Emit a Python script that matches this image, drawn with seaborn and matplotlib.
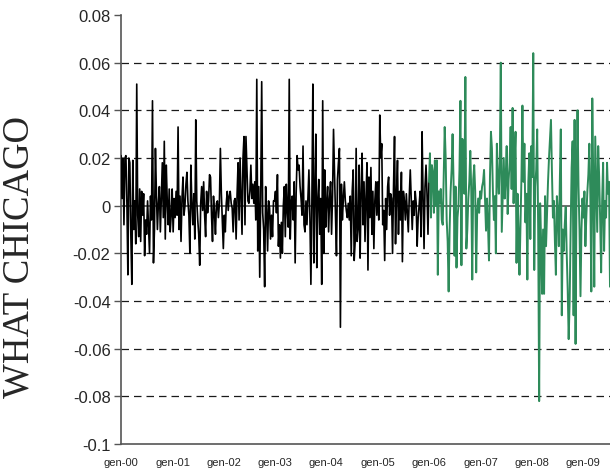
import numpy as np
import pandas as pd
import matplotlib
matplotlib.use("Agg")
import matplotlib.pyplot as plt
import matplotlib.dates as mdates
from matplotlib.ticker import FuncFormatter
import seaborn as sns

# Weekly returns, one list per calendar year
r2000 = [0.021, 0.003, 0.020, -0.008, 0.020, 0.021, 0.001, -0.029, 0.020, 0.018,
         -0.012, -0.033, 0.019, -0.010, 0.002, -0.016, 0.051, -0.004, -0.013, 0.007,
         -0.015, 0.006, -0.004, 0.005, -0.021, -0.006, -0.012, 0.002, -0.009, -0.020,
         0.004, -0.006, 0.044, -0.024, -0.010, 0.024, 0.005, -0.010, 0.001, 0.008,
         -0.011, 0.003, 0.018, -0.005, 0.027, -0.014, 0.017, 0.002, -0.008, 0.007,
         -0.011, -0.004]
r2001 = [0.007, -0.011, 0.003, -0.005, 0.006, -0.004, 0.033, -0.010, 0.004, -0.015,
         0.003, 0.012, -0.004, 0.000, 0.009, 0.014, 0.002, -0.004, -0.020, 0.017,
         0.001, -0.008, 0.005, -0.014, 0.036, 0.002, -0.006, -0.012, -0.025, 0.001,
         0.008, -0.002, 0.010, -0.004, -0.013, 0.006, -0.003, 0.002, 0.013, 0.012,
         -0.004, -0.015, 0.004, -0.003, -0.012, 0.001, 0.002, -0.005, 0.001, 0.024,
         0.005, -0.006]
r2002 = [-0.018, -0.004, -0.011, 0.001, 0.006, -0.002, 0.004, 0.006, 0.001, -0.001,
         -0.011, 0.002, 0.003, -0.014, 0.005, 0.018, -0.006, 0.020, 0.004, -0.012,
         0.020, 0.029, -0.008, 0.029, 0.015, 0.002, 0.001, 0.006, 0.017, 0.003,
         0.009, 0.001, 0.010, -0.006, 0.053, -0.019, 0.008, -0.030, 0.004, 0.052,
         -0.003, -0.010, -0.034, 0.008, -0.002, -0.019, 0.002, -0.001, -0.014, -0.004,
         -0.013, 0.002]
r2003 = [0.002, 0.006, -0.003, 0.013, -0.017, -0.008, -0.022, -0.007, -0.020, 0.000,
         0.008, -0.013, 0.009, -0.002, -0.009, 0.053, -0.014, 0.001, 0.004, -0.006,
         0.010, -0.024, 0.005, 0.021, 0.015, 0.017, 0.008, 0.003, -0.004, 0.025,
         -0.008, -0.011, 0.002, -0.008, 0.004, 0.015, -0.005, -0.033, 0.001, 0.051,
         -0.024, 0.005, 0.030, -0.026, 0.002, 0.011, -0.012, 0.003, -0.033, 0.044,
         -0.020, 0.015]
r2004 = [-0.009, 0.002, 0.008, -0.011, 0.003, 0.010, -0.012, 0.004, 0.032, 0.013,
         -0.004, -0.021, 0.011, 0.018, 0.024, -0.051, 0.009, -0.006, 0.003, 0.010,
         0.002, -0.002, -0.005, 0.001, -0.006, 0.004, -0.021, 0.006, 0.015, -0.023,
         -0.015, 0.024, -0.015, -0.010, 0.017, -0.022, 0.005, 0.022, -0.008, 0.010,
         -0.015, 0.003, 0.018, -0.027, 0.012, -0.005, 0.016, -0.012, 0.006, -0.018,
         0.002, 0.010]
r2005 = [-0.004, 0.010, -0.006, 0.038, 0.020, 0.026, -0.008, -0.002, -0.023, 0.003,
         -0.010, 0.008, 0.012, -0.004, 0.005, 0.003, -0.020, 0.008, 0.029, -0.016,
         0.004, 0.019, -0.012, 0.006, -0.006, 0.014, -0.0235, 0.006, 0.002, -0.006,
         0.005, -0.003, -0.011, 0.004, 0.015, 0.003, -0.010, 0.002, -0.004, 0.006,
         0.001, -0.017, -0.005, 0.000, 0.006, -0.013, 0.031, 0.004, -0.018, 0.008,
         0.017, 0.005]
r2006 = [-0.012, 0.010, 0.022, -0.005, 0.017, 0.014, -0.003, 0.019, 0.000, 0.019,
         -0.029, 0.006, 0.001, 0.007, -0.006, -0.008, 0.012, 0.033, 0.020, -0.006,
         -0.015, -0.036, -0.010, 0.006, 0.015, 0.030, 0.010, -0.021, 0.008, -0.026,
         -0.005, 0.000, 0.015, 0.044, -0.025, 0.028, 0.021, 0.005, 0.054, -0.018,
         -0.010, 0.003, 0.010, 0.023, 0.006, -0.031, 0.011, 0.017, 0.006, -0.028,
         -0.003, 0.003]
r2007 = [-0.003, 0.006, 0.003, 0.008, 0.010, 0.015, 0.002, -0.0105, 0.003, -0.008,
         -0.023, 0.012, 0.031, 0.024, 0.006, -0.006, 0.004, -0.020, 0.026, 0.012,
         0.005, 0.018, 0.060, -0.011, 0.004, 0.020, 0.003, 0.012, 0.025, -0.0035,
         0.011, 0.018, 0.033, 0.007, 0.041, 0.001, 0.018, 0.031, -0.024, 0.005,
         -0.010, -0.029, -0.009, 0.012, 0.042, 0.010, 0.026, -0.007, 0.005, -0.031,
         0.010, 0.022]
r2008 = [-0.014, 0.025, 0.012, 0.064, -0.027, 0.008, 0.015, 0.032, -0.010, -0.082,
         0.001, -0.015, -0.037, -0.010, -0.037, 0.004, -0.017, -0.004, 0.010, 0.020,
         0.028, 0.036, 0.014, -0.005, 0.002, -0.015, -0.029, 0.004, -0.003, -0.017,
         0.010, 0.032, -0.046, -0.010, -0.019, -0.008, -0.0005, -0.020, -0.035, -0.056,
         -0.040, -0.010, 0.016, 0.027, -0.046, 0.036, -0.058, 0.010, 0.040, 0.008,
         -0.010, -0.038]
r2009 = [-0.010, 0.003, -0.005, 0.006, -0.017, -0.004, 0.006, 0.013, 0.026, 0.005,
         -0.036, 0.045, 0.010, -0.034, 0.029, 0.008, -0.011, 0.025, 0.012, -0.006,
         -0.028, 0.002, 0.018, -0.019, 0.002, -0.005, 0.018, 0.005, 0.010, -0.034]

y_ticks = [-0.1, -0.08, -0.06, -0.04, -0.02, 0.0, 0.02, 0.04, 0.06, 0.08]
y_label = "WHAT CHICAGO"
month_prefix = "gen"

returns = r2000 + r2001 + r2002 + r2003 + r2004 + r2005 + r2006 + r2007 + r2008 + r2009
dates = pd.date_range("2000-01-01", periods=len(returns), freq="7D")
df = pd.DataFrame({"date": dates, "ret": returns})

split = pd.Timestamp("2006-01-01")
early = df[df["date"] < split]
late = df[df["date"] >= split - pd.Timedelta(days=7)]

sns.set_style("white")
plt.rcParams["font.family"] = ["Liberation Sans", "DejaVu Sans"]

fig = plt.figure(figsize=(6.1, 4.77), dpi=100)
ax = fig.add_axes([121 / 610, 1 - 445 / 477, 489 / 610, 429 / 477])

# dashed horizontal grid, solid zero line
ax.set_yticks(y_ticks)
ax.set_ylim(-0.1, 0.08)
ax.grid(axis="y", color="#1a1a1a", lw=0.9, linestyle=(0, (6, 4)))
ax.grid(axis="x", visible=False)
for val, gl in zip(y_ticks, ax.get_ygridlines()):
    if abs(val) < 1e-9 or val >= 0.08 or val <= -0.1:
        gl.set_visible(False)
ax.axhline(0, color="#6e6e6e", lw=1.4, zorder=1.5)

sns.lineplot(data=early, x="date", y="ret", color="black", lw=1.2,
             estimator=None, ax=ax, zorder=3)
sns.lineplot(data=late, x="date", y="ret", color="#2e8b5a", lw=1.4,
             estimator=None, ax=ax, zorder=3)

ax.set_xlim(pd.Timestamp("2000-01-01"), dates[-1])
ax.xaxis.set_major_locator(mdates.YearLocator())
ax.xaxis.set_major_formatter(
    FuncFormatter(lambda x, pos: f"{month_prefix}-{mdates.num2date(x).year % 100:02d}"))
ax.yaxis.set_major_formatter(FuncFormatter(lambda v, pos: f"{v:g}" if abs(v) > 1e-9 else "0"))

ax.tick_params(axis="y", direction="out", length=5, width=1, color="#555555",
               pad=2.5, labelsize=12, left=True)
ax.tick_params(axis="x", length=0, pad=9, labelsize=8)

ax.set_xlabel("")
ax.set_ylabel("")
for side in ["top", "right"]:
    ax.spines[side].set_visible(False)
for side in ["left", "bottom"]:
    ax.spines[side].set_color("#555555")
    ax.spines[side].set_linewidth(1.2)

fig.text(19 / 610, 1 - 257 / 477, y_label, rotation=90, ha="center", va="center",
         family=["Liberation Serif", "DejaVu Serif"], fontsize=26.5)

fig.savefig("out.png", dpi=100)
